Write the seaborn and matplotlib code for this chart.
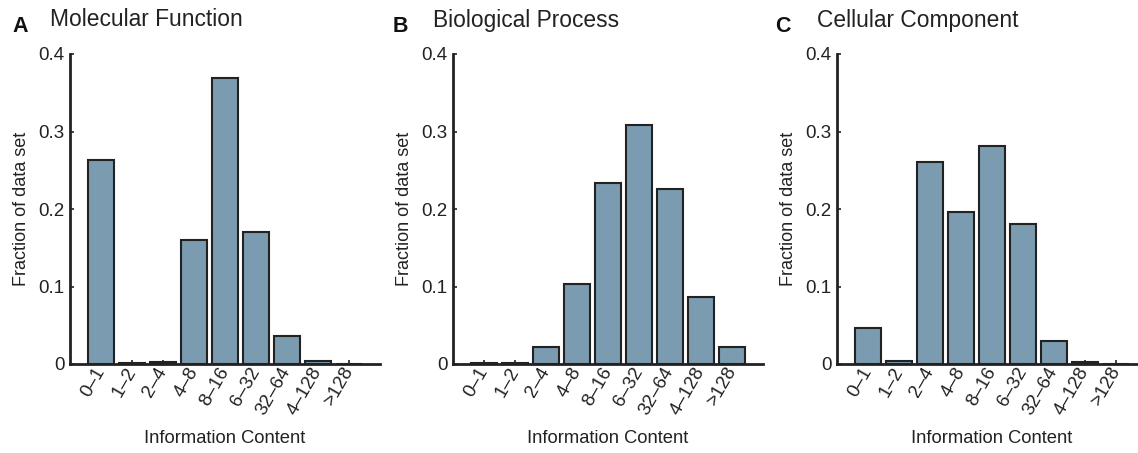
import matplotlib
matplotlib.use("Agg")
import matplotlib.pyplot as plt
import seaborn as sns

# --- DATA ---
bins = ["0–1", "1–2", "2–4", "4–8", "8–16", "6–32", "32–64", "4–128", ">128"]

molecular_function = [0.263, 0.0017, 0.002, 0.160, 0.369, 0.170, 0.036, 0.0034, 0.0005]
biological_process = [0.001, 0.001, 0.022, 0.103, 0.234, 0.308, 0.226, 0.086, 0.0225]
cellular_component = [0.047, 0.004, 0.261, 0.196, 0.281, 0.181, 0.030, 0.0025, 0.0005]

panels = [
    ("A", "Molecular Function", molecular_function),
    ("B", "Biological Process", biological_process),
    ("C", "Cellular Component", cellular_component),
]

# --- STYLE ---
sns.set_style("ticks")
plt.rcParams["font.family"] = ["Liberation Sans", "DejaVu Sans"]

bar_color = "#7a9bb0"
edge_color = "#222222"

fig = plt.figure(figsize=(11.38, 4.53), dpi=100)

# axes positions in figure fractions (left edges)
lefts = [70 / 1138, 453 / 1138, 837 / 1138]
letter_x = [12 / 1138, 393 / 1138, 775 / 1138]
title_x = [50 / 1138, 433 / 1138, 817 / 1138]
ax_w = 310 / 1138
ax_b = (453 - 364) / 453
ax_h = 310 / 453

for i, (letter, title, values) in enumerate(panels):
    ax = fig.add_axes([lefts[i], ax_b, ax_w, ax_h])
    sns.barplot(x=bins, y=values, color=bar_color, saturation=1,
                edgecolor=edge_color, linewidth=1.5, width=0.84, ax=ax)

    ax.set_xlim(-1.0, 9.0)
    ax.set_ylim(0, 0.4)
    ax.set_yticks([0, 0.1, 0.2, 0.3, 0.4])
    ax.set_yticklabels(["0", "0.1", "0.2", "0.3", "0.4"])
    ax.tick_params(direction="in", length=3, width=1.2, labelsize=13.5,
                   colors="#222222", pad=4)
    ax.tick_params(axis="x", pad=3)
    for lbl in ax.get_xticklabels():
        lbl.set_rotation(60)
        lbl.set_ha("right")
        lbl.set_va("center")
        lbl.set_rotation_mode("anchor")

    ax.set_ylabel("Fraction of data set", fontsize=13, color="#222222", labelpad=6)
    ax.set_xlabel("Information Content", fontsize=13.2, color="#222222", labelpad=9)

    sns.despine(ax=ax)
    for side in ["left", "bottom"]:
        ax.spines[side].set_linewidth(2)
        ax.spines[side].set_color("#222222")

    # panel letter and title
    fig.text(letter_x[i], 1 - 26 / 453, letter, fontsize=15.5, fontweight="bold",
             va="center", ha="left", color="#111111")
    fig.text(title_x[i], 1 - 20 / 453, title, fontsize=16.4,
             va="center", ha="left", color="#222222")

fig.savefig("out.png", dpi=100)
plt.close(fig)
